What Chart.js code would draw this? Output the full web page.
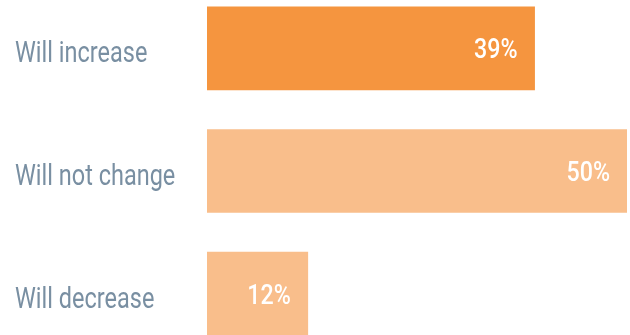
<!DOCTYPE html>
<html>
<head>
<meta charset="utf-8">
<script src="https://cdn.jsdelivr.net/npm/chart.js@4"></script>
<style>
  html, body { margin: 0; padding: 0; background: #fff; overflow: hidden; }
  body { width: 630px; height: 335px; position: relative; }
  /* the plot runs a little past the top and bottom edges */
  .wrap { position: absolute; left: 0; top: -13px; width: 630px; height: 368px; }
</style>
</head>
<body>
<div class="wrap"><canvas id="myChart"></canvas></div>
<script>
const categorias = ['Will increase', 'Will not change', 'Will decrease'];
const valores = [39, 50, 12];
const cores = ['#f5953f', '#f9be8b', '#f9be8b'];

// Texto estreito: Roboto comprimido na horizontal
function textoEstreito(ctx, texto, x, y, escala) {
    ctx.save();
    ctx.translate(x, y);
    ctx.scale(escala, 1);
    ctx.fillText(texto, 0, 0);
    ctx.restore();
}

// Nomes das categorias à esquerda e percentuais dentro das barras
const rotulos = {
    id: 'rotulos',
    afterDatasetsDraw(chart) {
        const { ctx } = chart;
        const eixoY = chart.scales.y;
        const meta = chart.getDatasetMeta(0);

        ctx.save();
        ctx.textBaseline = 'alphabetic';

        ctx.fillStyle = '#798fa2';
        ctx.font = '400 29px Roboto';
        ctx.textAlign = 'left';
        categorias.forEach((nome, i) => {
            textoEstreito(ctx, nome, 15, eixoY.getPixelForTick(i) + 14, 0.81);
        });

        ctx.fillStyle = '#ffffff';
        ctx.font = '500 27px Roboto';
        ctx.textAlign = 'right';
        meta.data.forEach((bar, i) => {
            textoEstreito(ctx, valores[i] + '%', bar.x - 17, bar.y + 10, 0.86);
        });
        ctx.restore();
    }
};

const ctx = document.getElementById('myChart');

new Chart(ctx, {
    type: 'bar',
    data: {
        labels: categorias,
        datasets: [{
            data: valores,
            backgroundColor: cores,
            borderWidth: 0,
            barThickness: 83
        }]
    },
    options: {
        indexAxis: 'y',
        responsive: true,
        maintainAspectRatio: false,
        animation: false,
        layout: {
            padding: { left: 15, right: 3, top: 0, bottom: 0 }
        },
        scales: {
            x: {
                display: false,
                min: 0,
                max: 50
            },
            y: {
                border: { display: false },
                grid: { display: false, drawTicks: false },
                ticks: { display: false },
                afterFit: (scale) => {
                    scale.width = 192;
                    scale.paddingTop = 0;
                    scale.paddingBottom = 0;
                }
            }
        },
        plugins: {
            legend: { display: false },
            tooltip: { enabled: false }
        }
    },
    plugins: [rotulos]
});
</script>
</body>
</html>
